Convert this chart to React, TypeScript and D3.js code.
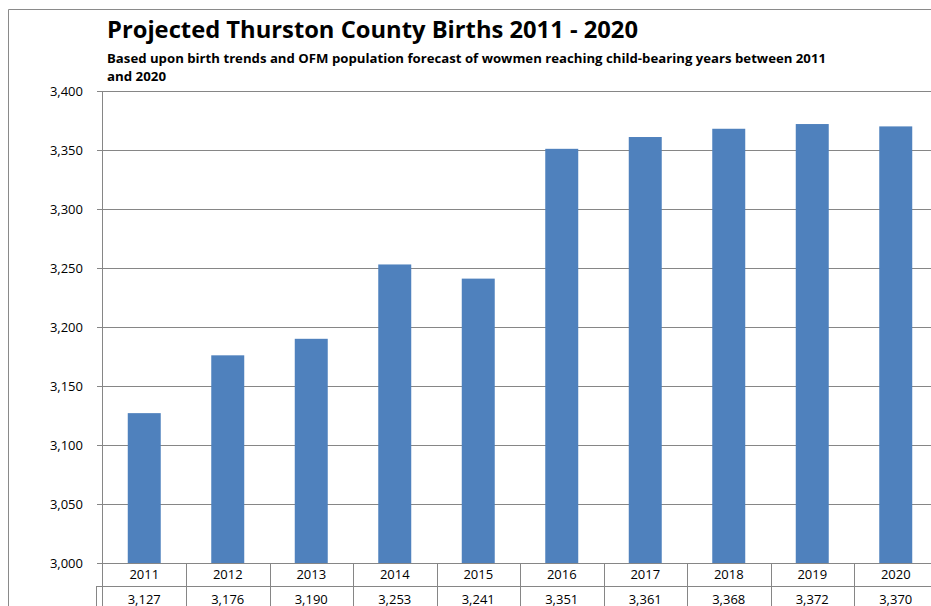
import React from "react";
import * as d3 from "d3";

const years = ["2011", "2012", "2013", "2014", "2015", "2016", "2017", "2018", "2019", "2020"];
const births = [3127, 3176, 3190, 3253, 3241, 3351, 3361, 3368, 3372, 3370];
const yTicks = [3000, 3050, 3100, 3150, 3200, 3250, 3300, 3350, 3400];
const title = "Projected Thurston County Births 2011 - 2020";
const subtitle1 = "Based upon birth trends and OFM population forecast of wowmen reaching child-bearing years between 2011";
const subtitle2 = "and 2020";

const W = 931;
const H = 606;
const FONT = "'Open Sans', 'Liberation Sans', sans-serif";

export default function App() {
  const left = 102.5;
  const band = 83.5;
  const top = 91;
  const bottom = 563;
  const x = d3.scaleBand<string>().domain(years).range([left, left + band * years.length]).paddingInner(0.605).paddingOuter(0.3025);
  const xb = d3.scaleBand<string>().domain(years).range([left, left + band * years.length]);
  const y = d3.scaleLinear().domain([3000, 3400]).range([bottom, top]);
  const fmt = d3.format(",");
  const grid = "#868686";
  const row1 = 586.5;

  return (
    <svg width={W} height={H} style={{ position: "absolute", left: 0, top: 0, background: "#fff" }} fontFamily={FONT}>
      <rect x={0} y={0} width={W} height={H} fill="#fff" />
      {/* outer border */}
      <path d={`M8.5,${H} V9.5 H${W}`} fill="none" stroke="#8a8a8a" strokeWidth={1} />
      <text x={107} y={37.5} fontSize={23} fontWeight={700} fill="#000" textLength={531} lengthAdjust="spacingAndGlyphs">{title}</text>
      <text x={107} y={62.5} fontSize={12} fontWeight={700} fill="#000" textLength={719} lengthAdjust="spacingAndGlyphs">{subtitle1}</text>
      <text x={107} y={80.5} fontSize={12} fontWeight={700} fill="#000" textLength={59} lengthAdjust="spacingAndGlyphs">{subtitle2}</text>
      {/* gridlines & ticks */}
      {yTicks.map((t) => (
        <g key={t}>
          <line x1={97} x2={W} y1={Math.round(y(t)) + 0.5} y2={Math.round(y(t)) + 0.5} stroke={grid} strokeWidth={1} />
          <text x={83} y={y(t)} dy="0.36em" textAnchor="end" fontSize={13} fill="#000">{fmt(t)}</text>
        </g>
      ))}
      {/* bars */}
      {years.map((yr, i) => (
        <rect key={yr} x={x(yr)!} y={y(births[i])} width={x.bandwidth()} height={bottom - y(births[i])} fill="#4F81BD" />
      ))}
      {/* axis line */}
      <line x1={102.5} x2={102.5} y1={top} y2={H} stroke={grid} strokeWidth={1} />
      {/* data table */}
      <line x1={96} x2={W} y1={row1} y2={row1} stroke={grid} strokeWidth={1} />
      <line x1={96.5} x2={96.5} y1={row1} y2={H} stroke={grid} strokeWidth={1} />
      {years.map((yr, i) => {
        const bx = Math.round(xb(yr)! + band) + 0.5;
        const cx = xb(yr)! + band / 2;
        return (
          <g key={yr}>
            <line x1={bx} x2={bx} y1={bottom} y2={H} stroke={grid} strokeWidth={1} />
            <text x={cx} y={579} textAnchor="middle" fontSize={13} fill="#000">{yr}</text>
            <text x={cx} y={603.5} textAnchor="middle" fontSize={13} fill="#000">{fmt(births[i])}</text>
          </g>
        );
      })}
    </svg>
  );
}
